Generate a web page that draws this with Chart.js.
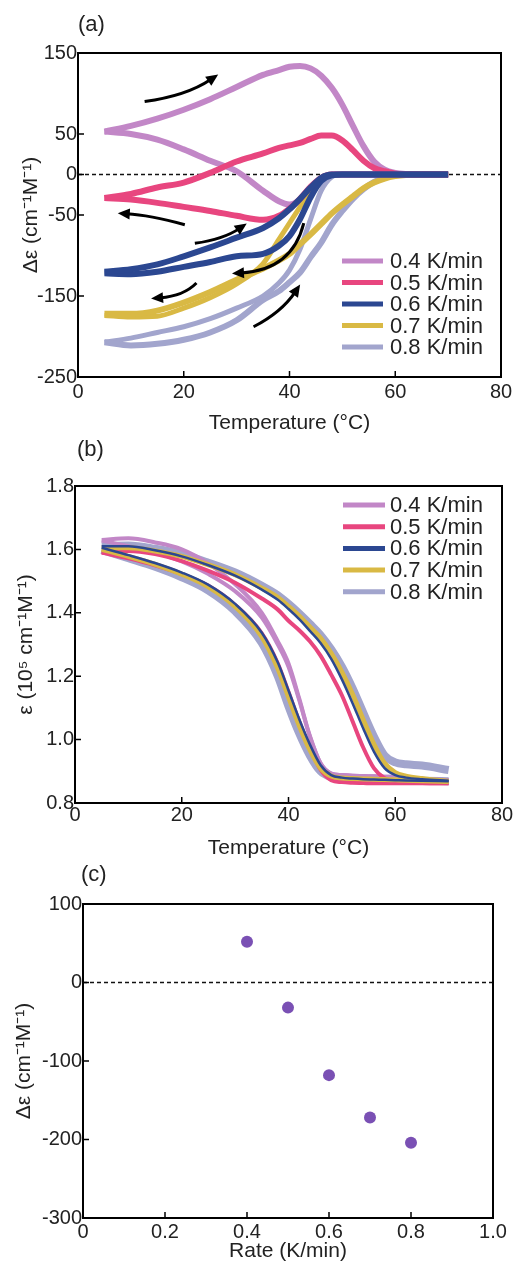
<!DOCTYPE html>
<html>
<head>
<meta charset="utf-8">
<script src="https://cdn.jsdelivr.net/npm/chart.js@4.4.1/dist/chart.umd.min.js"></script>
<style>
  body { margin: 0; background: #fff; }
  canvas { position: absolute; left: 0; }
</style>
</head>
<body>
<canvas id="chartA" width="517" height="435" style="top:0px"></canvas>
<canvas id="chartB" width="517" height="425" style="top:435px"></canvas>
<canvas id="chartC" width="517" height="408" style="top:855px"></canvas>
<script>
// shared temperature grid (°C)
const temps = [5, 10, 15, 20, 25, 30, 35, 38, 40, 42, 44, 46, 48, 50, 52, 54, 56, 58, 60, 62, 65, 70];
const rateLabels = ["0.4 K/min", "0.5 K/min", "0.6 K/min", "0.7 K/min", "0.8 K/min"];
const rateColors = ["#c287c7", "#e8467f", "#2b4791", "#d9b944", "#a2a5cd"];

// (a) CD, delta epsilon (cm-1 M-1), two branches per rate
const cd04up = [53, 60, 69, 80, 93, 108, 123, 129, 133, 134, 131, 122, 107, 86, 60, 35, 16, 6, 2, 0.5, 0, 0];
const cd04dn = [53, 50, 43, 31, 17, 4, -20, -33, -37, -31, -16, -5, 0, 0, 0, 0, 0, 0, 0, 0, 0, 0];
const cd05up = [-29, -24, -16, -10, 2, 16, 26, 33, 36, 39, 44, 48, 48, 42, 30, 17, 8, 4, 1, 0, 0, 0];
const cd05dn = [-29, -31, -35, -40, -45, -51, -56, -51, -42, -30, -15, -4, 0, 0, 0, 0, 0, 0, 0, 0, 0, 0];
const cd06up = [-120, -117, -111, -101, -90, -78, -66, -54, -43, -30, -16, -4, 0, 0, 0, 0, 0, 0, 0, 0, 0, 0];
const cd06dn = [-122, -123, -120, -114, -108, -101, -98, -88, -76, -55, -28, -8, -1, 0, 0, 0, 0, 0, 0, 0, 0, 0];
const cd07up = [-172, -172, -168, -158, -145, -130, -116, -106, -98, -86, -74, -61, -48, -37, -27, -17, -10, -5, -2, -0.5, 0, 0];
const cd07dn = [-174, -176, -175, -165, -152, -135, -110, -80, -60, -40, -20, -6, -1, 0, 0, 0, 0, 0, 0, 0, 0, 0];
const cd08up = [-207, -211, -209, -204, -195, -180, -155, -144, -133, -121, -102, -84, -62, -45, -30, -18, -9, -4, -1, 0, 0, 0];
const cd08dn = [-207, -202, -195, -188, -178, -165, -150, -134, -118, -92, -55, -20, -3, 0, 0, 0, 0, 0, 0, 0, 0, 0];
const yTicksA = [150, 50, 0, -50, -150, -250];

// (b) absorbance, epsilon (1e5 cm-1 M-1)
const ab04a = [1.628, 1.610, 1.590, 1.562, 1.522, 1.468, 1.385, 1.300, 1.230, 1.125, 1.010, 0.925, 0.893, 0.888, 0.886, 0.885, 0.884, 0.883, 0.882, 0.880, 0.876, 0.872];
const ab04b = [1.630, 1.635, 1.622, 1.600, 1.555, 1.490, 1.400, 1.310, 1.240, 1.130, 1.012, 0.926, 0.893, 0.888, 0.886, 0.885, 0.884, 0.883, 0.882, 0.880, 0.876, 0.872];
const ab05a = [1.590, 1.572, 1.550, 1.522, 1.485, 1.425, 1.335, 1.240, 1.150, 1.058, 0.975, 0.905, 0.872, 0.866, 0.864, 0.863, 0.862, 0.862, 0.862, 0.862, 0.862, 0.862];
const ab05b = [1.590, 1.595, 1.585, 1.563, 1.532, 1.495, 1.445, 1.410, 1.375, 1.345, 1.310, 1.265, 1.205, 1.140, 1.058, 0.975, 0.910, 0.878, 0.868, 0.865, 0.863, 0.862];
const ab06a = [1.605, 1.582, 1.557, 1.527, 1.488, 1.428, 1.337, 1.243, 1.155, 1.065, 0.985, 0.920, 0.888, 0.880, 0.877, 0.875, 0.874, 0.873, 0.872, 0.871, 0.870, 0.869];
const ab06b = [1.610, 1.610, 1.597, 1.578, 1.550, 1.517, 1.473, 1.441, 1.412, 1.380, 1.343, 1.305, 1.255, 1.190, 1.115, 1.035, 0.962, 0.910, 0.888, 0.880, 0.875, 0.870];
const ab07a = [1.600, 1.578, 1.553, 1.522, 1.482, 1.420, 1.325, 1.225, 1.135, 1.045, 0.968, 0.910, 0.885, 0.879, 0.877, 0.876, 0.875, 0.874, 0.873, 0.872, 0.870, 0.868];
const ab07b = [1.605, 1.605, 1.595, 1.578, 1.551, 1.520, 1.478, 1.448, 1.420, 1.390, 1.355, 1.320, 1.272, 1.213, 1.143, 1.062, 0.985, 0.925, 0.896, 0.885, 0.877, 0.868];
const ab08a = [1.598, 1.572, 1.545, 1.512, 1.470, 1.405, 1.305, 1.200, 1.105, 1.020, 0.950, 0.900, 0.882, 0.878, 0.876, 0.875, 0.874, 0.873, 0.872, 0.871, 0.870, 0.869];
const ab08b = [1.610, 1.612, 1.602, 1.585, 1.558, 1.527, 1.485, 1.455, 1.428, 1.398, 1.365, 1.330, 1.285, 1.230, 1.162, 1.085, 1.010, 0.950, 0.928, 0.922, 0.918, 0.904];

// (c) delta epsilon at 5 °C vs scan rate
const rates = [0.4, 0.5, 0.6, 0.7, 0.8];
const deltaEps = [52, -32, -118, -172, -204];

Chart.defaults.font.family = '"Liberation Sans", Arial, sans-serif';
Chart.defaults.color = "#222";

// arrows drawn on (a): start, control, end in data units
const arrowsA = [
  [[12.6, 90], [20.5, 97], [26.2, 122]],
  [[20.2, -62], [13.5, -50], [7.9, -48]],
  [[22.1, -85], [27.5, -80], [31.6, -62]],
  [[42.7, -60], [40.5, -118], [29.5, -122]],
  [[22.4, -134], [20, -150], [14.2, -153]],
  [[33.2, -188], [38.5, -170], [41.8, -138]]
];

function pts(vals) {
  return temps.map((t, i) => ({ x: t, y: vals[i] }));
}
function line(vals, color, width) {
  return {
    data: pts(vals), borderColor: color, borderWidth: width, pointRadius: 0,
    cubicInterpolationMode: "monotone", fill: false
  };
}

const panelPlugin = {
  id: "panel",
  beforeDatasetsDraw(chart, args, opts) {
    if (!opts.zeroLine) return;
    const { ctx, chartArea: a, scales } = chart;
    const y = scales.y.getPixelForValue(0);
    ctx.save();
    ctx.strokeStyle = "#111";
    ctx.lineWidth = 1.5;
    ctx.setLineDash([4, 3]);
    ctx.beginPath();
    ctx.moveTo(a.left, y);
    ctx.lineTo(a.right, y);
    ctx.stroke();
    ctx.restore();
  },
  afterDatasetsDraw(chart, args, opts) {
    const { ctx, chartArea: a, scales } = chart;
    ctx.save();
    // arrows
    (opts.arrows || []).forEach(ar => {
      const p = ar.map(q => ({ x: scales.x.getPixelForValue(q[0]), y: scales.y.getPixelForValue(q[1]) }));
      const ang = Math.atan2(p[2].y - p[1].y, p[2].x - p[1].x);
      const endX = p[2].x - 7 * Math.cos(ang), endY = p[2].y - 7 * Math.sin(ang);
      ctx.strokeStyle = "#000";
      ctx.fillStyle = "#000";
      ctx.lineWidth = 3;
      ctx.beginPath();
      ctx.moveTo(p[0].x, p[0].y);
      ctx.quadraticCurveTo(p[1].x, p[1].y, endX, endY);
      ctx.stroke();
      ctx.beginPath();
      ctx.moveTo(p[2].x + 2 * Math.cos(ang), p[2].y + 2 * Math.sin(ang));
      ctx.lineTo(p[2].x - 10 * Math.cos(ang) + 5.5 * Math.sin(ang), p[2].y - 10 * Math.sin(ang) - 5.5 * Math.cos(ang));
      ctx.lineTo(p[2].x - 10 * Math.cos(ang) - 5.5 * Math.sin(ang), p[2].y - 10 * Math.sin(ang) + 5.5 * Math.cos(ang));
      ctx.closePath();
      ctx.fill();
    });
    // inner tick marks
    ctx.strokeStyle = "#000";
    ctx.lineWidth = 1.5;
    ctx.beginPath();
    scales.x.ticks.forEach(t => {
      const x = scales.x.getPixelForValue(t.value);
      if (x <= a.left + 1 || x >= a.right - 1) return;
      ctx.moveTo(x, a.bottom);
      ctx.lineTo(x, a.bottom - 6);
    });
    scales.y.ticks.forEach(t => {
      const y = scales.y.getPixelForValue(t.value);
      if (y <= a.top + 1 || y >= a.bottom - 1) return;
      ctx.moveTo(a.left, y);
      ctx.lineTo(a.left + 6, y);
    });
    ctx.stroke();
    // frame
    ctx.lineWidth = 2;
    ctx.strokeRect(a.left, a.top, a.right - a.left, a.bottom - a.top);
    ctx.restore();
  },
  afterDraw(chart, args, opts) {
    const { ctx } = chart;
    ctx.save();
    ctx.fillStyle = "#222";
    ctx.textBaseline = "middle";
    ctx.font = '22px "Liberation Sans", Arial, sans-serif';
    ctx.fillText(opts.label, opts.labelX, opts.labelY);
    if (opts.legend) {
      const lg = opts.legend;
      rateLabels.forEach((txt, i) => {
        const y = lg.y + i * lg.dy;
        ctx.strokeStyle = rateColors[i];
        ctx.lineWidth = lg.lw;
        ctx.beginPath();
        ctx.moveTo(lg.x1, y);
        ctx.lineTo(lg.x2, y);
        ctx.stroke();
        ctx.fillStyle = "#222";
        ctx.fillText(txt, lg.tx, y + 1);
      });
    }
    ctx.restore();
  }
};

function xAxis(min, max, step, title, height, pad, fmt) {
  return {
    type: "linear", min: min, max: max,
    grid: { display: false, drawTicks: false },
    border: { display: false },
    ticks: { stepSize: step, padding: pad, font: { size: 20 }, color: "#222", maxRotation: 0,
      callback: fmt || (v => String(v)) },
    title: { display: true, text: title, font: { size: 21, lineHeight: 1.1 }, color: "#222", padding: { top: 0, bottom: 0 } },
    afterFit: s => { s.height = height; }
  };
}
function yAxis(min, max, step, title, width, titlePad, fmt) {
  return {
    type: "linear", min: min, max: max,
    grid: { display: false, drawTicks: false },
    border: { display: false },
    ticks: { stepSize: step, padding: 1, font: { size: 20 }, color: "#222",
      callback: fmt || (v => String(v)) },
    title: { display: true, text: title, font: { size: 21, lineHeight: 1.2 }, color: "#222", padding: { top: titlePad, bottom: 0 } },
    afterFit: s => { s.width = width; }
  };
}

const baseOpts = {
  responsive: false,
  animation: false,
  devicePixelRatio: 1,
  events: []
};

// ---------- (a)
const yA = yAxis(-250, 150, 50, "Δε (cm⁻¹M⁻¹)", 78, 19);
yA.afterBuildTicks = s => { s.ticks = yTicksA.map(v => ({ value: v })); };
new Chart(document.getElementById("chartA"), {
  type: "line",
  data: {
    datasets: [
      line(cd06up, rateColors[2], 6), line(cd06dn, rateColors[2], 6),
      line(cd05up, rateColors[1], 6), line(cd05dn, rateColors[1], 6),
      line(cd07up, rateColors[3], 6), line(cd07dn, rateColors[3], 5),
      line(cd04up, rateColors[0], 6), line(cd04dn, rateColors[0], 6),
      line(cd08up, rateColors[4], 6), line(cd08dn, rateColors[4], 5)
    ]
  },
  options: Object.assign({}, baseOpts, {
    layout: { padding: { left: 0, right: 16, top: 53, bottom: 0 } },
    scales: { x: xAxis(0, 80, 20, "Temperature (°C)", 435 - 377, 3), y: yA },
    plugins: {
      legend: { display: false }, tooltip: { enabled: false },
      panel: {
        label: "(a)", labelX: 78, labelY: 25, zeroLine: true, arrows: arrowsA,
        legend: { x1: 342, x2: 383, tx: 390, y: 261, dy: 21.5, lw: 5 }
      }
    }
  }),
  plugins: [panelPlugin]
});

// ---------- (b)
const fmt1 = v => v.toFixed(1);
new Chart(document.getElementById("chartB"), {
  type: "line",
  data: {
    datasets: [
      line(ab06a, rateColors[2], 2.5), line(ab06b, rateColors[2], 2.5),
      line(ab07a, rateColors[3], 5), line(ab07b, rateColors[3], 5),
      line(ab05a, rateColors[1], 4), line(ab05b, rateColors[1], 4),
      line(ab04a, rateColors[0], 4), line(ab04b, rateColors[0], 4),
      line(ab08a, rateColors[4], 8), line(ab08b, rateColors[4], 8)
    ]
  },
  options: Object.assign({}, baseOpts, {
    layout: { padding: { left: 0, right: 15, top: 51, bottom: 0 } },
    scales: {
      x: xAxis(0, 80, 20, "Temperature (°C)", 425 - 368, 0),
      y: yAxis(0.8, 1.8, 0.2, "ε (10⁵ cm⁻¹M⁻¹)", 75, 14, fmt1)
    },
    plugins: {
      legend: { display: false }, tooltip: { enabled: false },
      panel: {
        label: "(b)", labelX: 77, labelY: 15, zeroLine: false,
        legend: { x1: 343, x2: 385, tx: 390, y: 505 - 435, dy: 21.7, lw: 5 }
      }
    }
  }),
  plugins: [panelPlugin]
});

// ---------- (c)
new Chart(document.getElementById("chartC"), {
  type: "scatter",
  data: {
    datasets: [{
      data: rates.map((r, i) => ({ x: r, y: deltaEps[i] })),
      backgroundColor: "#7a50b4", borderWidth: 0, pointRadius: 6
    }]
  },
  options: Object.assign({}, baseOpts, {
    layout: { padding: { left: 0, right: 24, top: 49, bottom: 0 } },
    scales: {
      x: xAxis(0, 1, 0.2, "Rate (K/min)", 408 - 363, 2, v => (v === 0 ? "0" : v.toFixed(1))),
      y: yAxis(-300, 100, 100, "Δε (cm⁻¹M⁻¹)", 83, 12)
    },
    plugins: {
      legend: { display: false }, tooltip: { enabled: false },
      panel: { label: "(c)", labelX: 81, labelY: 20, zeroLine: true }
    }
  }),
  plugins: [panelPlugin]
});
</script>
</body>
</html>
